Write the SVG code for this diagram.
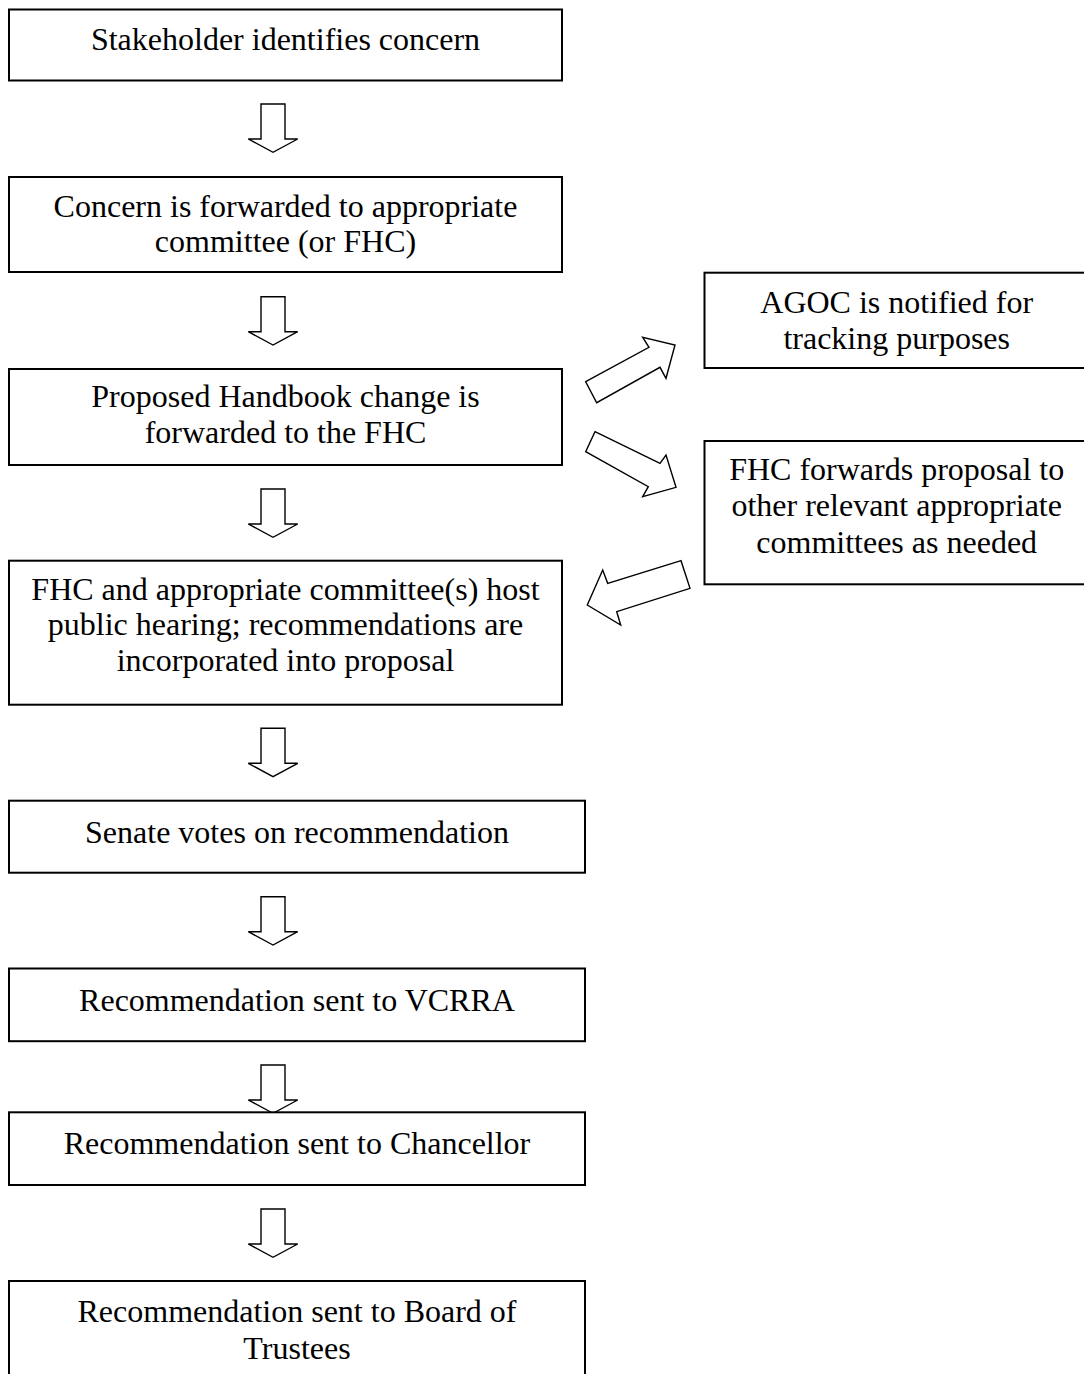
<svg xmlns="http://www.w3.org/2000/svg" width="1084" height="1374" viewBox="0 0 1084 1374">
<style>
.box{fill:#fff;stroke:#000;stroke-width:2}
.t{font-family:"Liberation Serif","Times New Roman",serif;font-size:32px;fill:#000;text-anchor:middle}
.arr{fill:#fff;stroke:#000;stroke-width:1.4;stroke-linejoin:miter}
</style>
<defs>
<path id="down" d="M-12,0 H12 V35 H24.7 L0,48.3 L-24.7,35 H-12 Z"/>
</defs>
<rect width="1084" height="1374" fill="#fff"/>
<g id="connectors">
<use href="#down" class="arr" x="273" y="104"/>
<use href="#down" class="arr" x="273" y="296.7"/>
<use href="#down" class="arr" x="273" y="489"/>
<use href="#down" class="arr" x="273" y="728.3"/>
<use href="#down" class="arr" x="273" y="896.7"/>
<use href="#down" class="arr" x="273" y="1065"/>
<use href="#down" class="arr" x="273" y="1209"/>
<polygon class="arr" points="585.7,381.7 649,347.3 642.7,337.3 675,345 666,378.3 660,367.3 596.7,402.7"/>
<polygon class="arr" points="595,431.7 660,463.3 666,455 676,487.3 642.7,496.7 648.3,486.7 585.7,451.7"/>
<polygon class="arr" points="681,560.7 607.7,583.3 602.7,570 587.3,605 620.7,625 616.7,611.7 690,588.3"/>
</g>
<g id="n1"><rect class="box" x="9" y="9.5" width="553" height="71"/><text class="t" x="285.5" y="50">Stakeholder identifies concern</text></g>
<g id="n2"><rect class="box" x="9" y="177" width="553" height="95"/><text class="t" x="285.5" y="216.7">Concern is forwarded to appropriate</text><text class="t" x="285.5" y="252.3">committee (or FHC)</text></g>
<g id="n3"><rect class="box" x="9" y="369" width="553" height="96"/><text class="t" x="285.5" y="407.3">Proposed Handbook change is</text><text class="t" x="285.5" y="443.3">forwarded to the FHC</text></g>
<g id="n4"><rect class="box" x="9" y="560.7" width="553" height="144"/><text class="t" x="285.5" y="599.5">FHC and appropriate committee(s) host</text><text class="t" x="285.5" y="635.3">public hearing; recommendations are</text><text class="t" x="285.5" y="671.2">incorporated into proposal</text></g>
<g id="n5"><rect class="box" x="9" y="800.7" width="576" height="72"/><text class="t" x="297" y="843">Senate votes on recommendation</text></g>
<g id="n6"><rect class="box" x="9" y="968.5" width="576" height="72.7"/><text class="t" x="297" y="1010.5">Recommendation sent to VCRRA</text></g>
<g id="n7"><rect class="box" x="9" y="1112.3" width="576" height="72.7"/><text class="t" x="297" y="1154">Recommendation sent to Chancellor</text></g>
<g id="n8"><rect class="box" x="9" y="1281" width="576" height="110"/><text class="t" x="297" y="1322">Recommendation sent to Board of</text><text class="t" x="297" y="1358.5">Trustees</text></g>
<g id="n9"><rect class="box" x="704.5" y="272.7" width="385" height="95.3"/><text class="t" x="896.7" y="313.3">AGOC is notified for</text><text class="t" x="896.7" y="348.5">tracking purposes</text></g>
<g id="n10"><rect class="box" x="704.5" y="441" width="385" height="143.3"/><text class="t" x="896.7" y="480">FHC forwards proposal to</text><text class="t" x="896.7" y="516.3">other relevant appropriate</text><text class="t" x="896.7" y="552.5">committees as needed</text></g>
</svg>
